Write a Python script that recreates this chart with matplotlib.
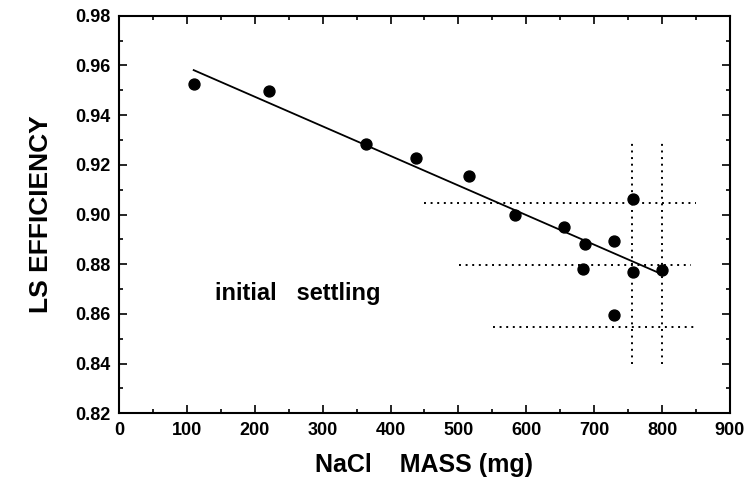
import matplotlib
matplotlib.use('Agg')
import matplotlib.pyplot as plt
from matplotlib.ticker import MultipleLocator, FormatStrFormatter

# measured points (NaCl mass in mg, LS efficiency)
nacl_mass = [111, 221, 364, 437, 516, 584, 656, 687, 684, 729, 729, 757, 757, 800]
efficiency = [0.9525, 0.9496, 0.9285, 0.9227, 0.9155, 0.8998, 0.8948, 0.8883,
              0.8779, 0.8895, 0.8594, 0.9061, 0.8770, 0.8777]

# linear fit end points
fit_mass = [110, 797]
fit_eff = [0.9581, 0.8763]

# dotted guide lines
h_levels = [0.9048, 0.8797, 0.8546]
h_starts = [450, 501, 551]
h_ends = [850, 843, 848]
v_positions = [755.5, 800.5]
v_range = [0.8398, 0.930]

plt.rcParams['font.family'] = ['Liberation Sans', 'DejaVu Sans']
plt.rcParams['font.weight'] = 'bold'

fig = plt.figure(figsize=(7.49, 4.83), dpi=100)
ax = fig.add_axes([0.1589, 0.1443, 0.8157, 0.8232])

ax.plot(fit_mass, fit_eff, color='black', lw=1.3)
ax.scatter(nacl_mass, efficiency, s=62, color='black', zorder=3)

for lev, a, b in zip(h_levels, h_starts, h_ends):
    ax.plot([a, b], [lev, lev], color='black', lw=1.4, ls=(0, (1, 2.4)))
for xv in v_positions:
    ax.plot([xv, xv], v_range, color='black', lw=1.4, ls=(0, (1, 2.4)))

ax.text(141, 0.8684, 'initial   settling', fontsize=17, fontweight='bold',
        va='center', ha='left')

ax.set_xlim(0, 900)
ax.set_ylim(0.82, 0.98)
ax.xaxis.set_major_locator(MultipleLocator(100))
ax.xaxis.set_minor_locator(MultipleLocator(50))
ax.yaxis.set_major_locator(MultipleLocator(0.02))
ax.yaxis.set_minor_locator(MultipleLocator(0.01))
ax.yaxis.set_major_formatter(FormatStrFormatter('%.2f'))
ax.tick_params(which='both', direction='in', top=True, right=True, width=1.2)
ax.tick_params(which='major', length=6, labelsize=13, pad=6)
ax.tick_params(which='minor', length=3)
for lbl in ax.get_xticklabels() + ax.get_yticklabels():
    lbl.set_fontweight('bold')
for sp in ax.spines.values():
    sp.set_linewidth(1.5)

ax.set_xlabel('NaCl    MASS (mg)', fontsize=18, fontweight='bold', labelpad=10)
ax.set_ylabel('LS EFFICIENCY', fontsize=19, fontweight='bold', labelpad=16)

fig.savefig('out.png', dpi=100)
